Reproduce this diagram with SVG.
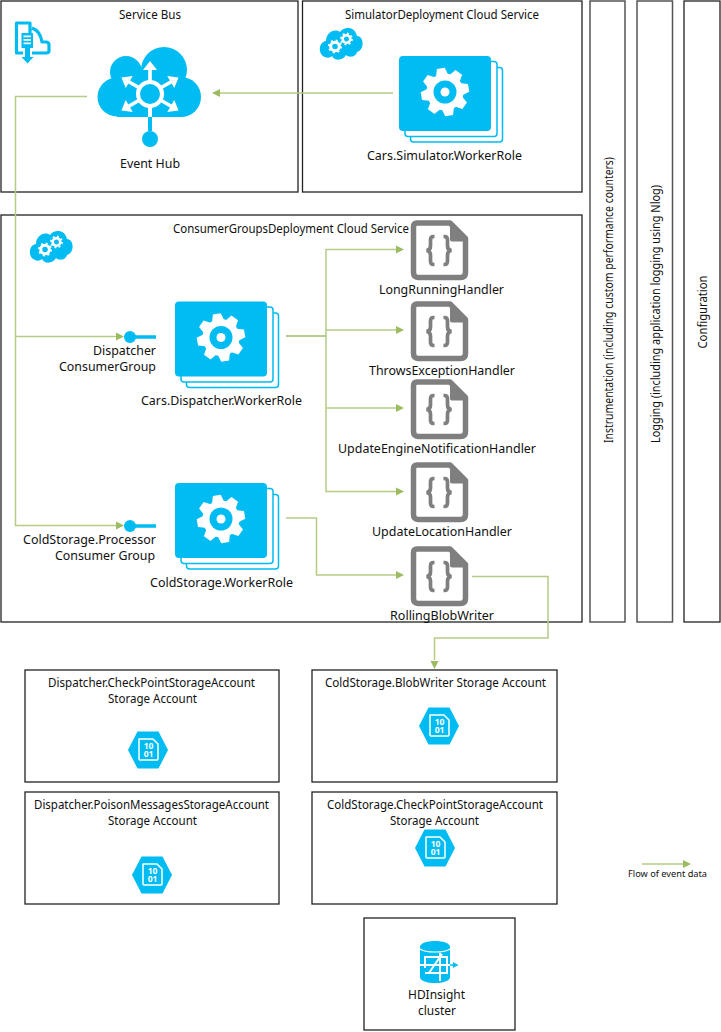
<svg xmlns="http://www.w3.org/2000/svg" xmlns:xlink="http://www.w3.org/1999/xlink" width="721" height="1032" viewBox="0 0 721 1032">
<style>
text{font-family:"Noto Sans","Open Sans","Liberation Sans",sans-serif;font-size:12px;fill:#111;text-anchor:middle}
.end{text-anchor:end}
.box{fill:#fff;stroke:#222;stroke-width:1.300}
.lbox{fill:#fff;stroke:#555;stroke-width:1.500}
.con{fill:none;stroke:#b4cc85;stroke-width:1.500}
.arr{fill:#9dbb61}
.blue{fill:#00bcf2}
.w{fill:#fff}
</style>
<defs>
<g id="gear">
<g transform="rotate(-10)">
<g class="w"><circle r="18.500"/>
<path id="t" d="M-6,-17-4,-24H4L6,-17V17L4,24H-4L-6,17Z"/>
<use xlink:href="#t" transform="rotate(45)"/>
<use xlink:href="#t" transform="rotate(90)"/>
<use xlink:href="#t" transform="rotate(135)"/></g>
</g>
<circle r="11.500" class="blue"/><circle r="4.500" class="w"/>
</g>
<g id="role">
<rect x="11.500" y="11.500" width="92" height="74.500" rx="3" fill="#fff" stroke="#00bcf2" stroke-width="1.500"/>
<rect x="6" y="5.500" width="92" height="75" rx="3" fill="#fff" stroke="#00bcf2" stroke-width="1.500"/>
<rect width="92" height="75" rx="4" class="blue"/>
<use xlink:href="#gear" transform="translate(46 36)"/>
</g>
<g id="doc">
<path d="M7,3H40L55.500,18.500V52.500Q55.500,57.500 50.500,57.500H8Q3.500,57.500 3.500,52.500V7Q3.500,3 7,3Z" fill="#fff" stroke="#7f7f7f" stroke-width="5.500" stroke-linejoin="round"/>
<path d="M40,2 57,19V21.500H42Q40,21.500 40,19.500Z" fill="#7f7f7f"/>
<path d="M24.500,16.500H23.500Q20.500,16.500 20.500,20V26Q20.500,30 16.500,30.500Q20.500,31 20.500,35V41Q20.500,44.500 23.500,44.500H24.500M33.500,16.500H34.500Q37.500,16.500 37.500,20V26Q37.500,30 41.500,30.500Q37.500,31 37.500,35V41Q37.500,44.500 34.500,44.500H33.500" fill="none" stroke="#7f7f7f" stroke-width="3.700"/>
</g>
<g id="hex">
<path d="M-20,0-10.500,-18.500H10.500L20,0 10.500,18.500H-10.500Z" class="blue"/>
<path d="M-9,-11H5L10,-6V9Q10,10 9,10H-8Q-9,10 -9,9Z" fill="none" stroke="#fff" stroke-width="1.500" stroke-linejoin="round"/>
<text x="0.500" y="-1.500" style="font-size:8.500px;font-weight:700;fill:#fff">10</text>
<text x="0.500" y="7" style="font-size:8.500px;font-weight:700;fill:#fff">01</text>
</g>
<g id="scloud">
<path class="blue" d="M6,32C-1,30 -1,17 7,16C7,8 15,3 21,7C25,1 36,1 38,11C45,11 46,25 38,27C37,32 30,33 27,30C24,36 15,36 13,31C11,33 8,33 6,32Z"/>
<g transform="translate(16 21.500)"><circle r="4.300" fill="none" stroke="#fff" stroke-width="3"/><circle r="6" fill="none" stroke="#fff" stroke-width="2" stroke-dasharray="2 2.700"/></g>
<g transform="translate(27.500 14)"><circle r="3.800" fill="none" stroke="#fff" stroke-width="2.600"/><circle r="5.400" fill="none" stroke="#fff" stroke-width="2" stroke-dasharray="1.900 2.300"/></g>
</g>
<g id="cg">
<circle cx="6" cy="6" r="6" class="blue"/>
<path d="M6,6H32" stroke="#00bcf2" stroke-width="3.500"/>
</g>
<path id="ah" class="arr" d="M0,0-8,-4V4Z"/>
<path id="hubarrow" class="w" d="M-1.800,-13V-24H-7L0,-33 7,-24H1.800V-13Z"/>
</defs>

<g id="service-bus">
<rect class="box" x="1" y="1" width="297" height="191"/>
<text x="150" y="19" textLength="62" lengthAdjust="spacingAndGlyphs">Service Bus</text>
<path d="M30,33V23H16.500V53H23M32,28C38,30 41,36 42,42H46Q49,42 49,45V51Q49,53 46,53H32" fill="none" stroke="#00bcf2" stroke-width="3.200" stroke-linejoin="round"/>
<path class="blue" d="M21.500,33H33V48H30V57H33.500L27.500,63.500 21.500,57H25V48H21.500Z"/>
<path class="w" d="M23.500,35.500H31V37.300H23.500ZM23.500,39H31V40.800H23.500ZM23.500,42.500H31V44.300H23.500Z"/>
</g>
<g id="simulator-service">
<rect class="box" x="302.500" y="1" width="279.500" height="191"/>
<text x="442" y="19" textLength="194" lengthAdjust="spacingAndGlyphs">SimulatorDeployment Cloud Service</text>
<use xlink:href="#scloud" transform="translate(319 25)"/>
</g>
<g id="consumer-service">
<rect class="box" x="1" y="215" width="581" height="407"/>
<text x="291" y="233" textLength="236" lengthAdjust="spacingAndGlyphs">ConsumerGroupsDeployment Cloud Service</text>
<use xlink:href="#scloud" transform="translate(29 228)"/>
</g>
<g id="instrumentation"><rect class="lbox" x="590" y="1" width="35" height="621"/>
<text transform="translate(613 300) rotate(-90)" textLength="286" lengthAdjust="spacingAndGlyphs">Instrumentation (including custom performance counters)</text></g>
<g id="logging"><rect class="lbox" x="637" y="1" width="35.500" height="621"/>
<text transform="translate(660 314) rotate(-90)" textLength="258" lengthAdjust="spacingAndGlyphs">Logging (including application logging using Nlog)</text></g>
<g id="configuration"><rect class="box" x="684" y="1" width="36" height="621"/>
<text transform="translate(707 312) rotate(-90)" textLength="73" lengthAdjust="spacingAndGlyphs">Configuration</text></g>

<g id="event-hub">
<g class="blue"><circle cx="117" cy="97" r="19.500"/><circle cx="126" cy="72" r="16"/><circle cx="164" cy="70" r="23"/><circle cx="181" cy="97" r="20"/><rect x="117" y="70" width="64" height="47"/></g>
<circle cx="150" cy="94" r="12" fill="none" stroke="#fff" stroke-width="4"/>
<use xlink:href="#hubarrow" transform="translate(150 94)"/>
<use xlink:href="#hubarrow" transform="translate(150 94) rotate(60)"/>
<use xlink:href="#hubarrow" transform="translate(150 94) rotate(120)"/>
<use xlink:href="#hubarrow" transform="translate(150 94) rotate(240)"/>
<use xlink:href="#hubarrow" transform="translate(150 94) rotate(300)"/>
<path d="M150,106V117" stroke="#fff" stroke-width="4"/>
<path d="M150,117V131" stroke="#00bcf2" stroke-width="4"/>
<circle cx="150" cy="139" r="8" class="blue"/>
<text x="150" y="168" textLength="60" lengthAdjust="spacingAndGlyphs">Event Hub</text>
</g>
<g id="simulator-role"><use xlink:href="#role" transform="translate(399 56)"/><text x="444.500" y="160" textLength="155" lengthAdjust="spacingAndGlyphs">Cars.Simulator.WorkerRole</text></g>
<g id="dispatcher-role"><use xlink:href="#role" transform="translate(175 301.500)"/><text x="221.500" y="405" textLength="161" lengthAdjust="spacingAndGlyphs">Cars.Dispatcher.WorkerRole</text></g>
<g id="coldstorage-role"><use xlink:href="#role" transform="translate(175 483)"/><text x="221.500" y="587" textLength="143" lengthAdjust="spacingAndGlyphs">ColdStorage.WorkerRole</text></g>
<g id="dispatcher-cg"><use xlink:href="#cg" transform="translate(124 331)"/><text class="end" x="156" y="355" textLength="63" lengthAdjust="spacingAndGlyphs">Dispatcher</text><text class="end" x="156" y="371" textLength="97" lengthAdjust="spacingAndGlyphs">ConsumerGroup</text></g>
<g id="coldstorage-cg"><use xlink:href="#cg" transform="translate(124 520)"/><text class="end" x="156" y="544" textLength="133" lengthAdjust="spacingAndGlyphs">ColdStorage.Processor</text><text class="end" x="155" y="560" textLength="100" lengthAdjust="spacingAndGlyphs">Consumer Group</text></g>

<g id="long-running"><use xlink:href="#doc" transform="translate(410 220)"/><text x="441.500" y="294" textLength="125" lengthAdjust="spacingAndGlyphs">LongRunningHandler</text></g>
<g id="throws-exception"><use xlink:href="#doc" transform="translate(410 301)"/><text x="442" y="375" textLength="146" lengthAdjust="spacingAndGlyphs">ThrowsExceptionHandler</text></g>
<g id="update-engine"><use xlink:href="#doc" transform="translate(410 379)"/><text x="437" y="453" textLength="198" lengthAdjust="spacingAndGlyphs">UpdateEngineNotificationHandler</text></g>
<g id="update-location"><use xlink:href="#doc" transform="translate(410 462)"/><text x="442" y="536" textLength="140" lengthAdjust="spacingAndGlyphs">UpdateLocationHandler</text></g>
<g id="rolling-blob"><use xlink:href="#doc" transform="translate(410 546)"/><text x="442" y="620" textLength="104" lengthAdjust="spacingAndGlyphs">RollingBlobWriter</text></g>

<g id="checkpoint-account"><rect class="box" x="25" y="670" width="254" height="112"/>
<text x="151.500" y="687" textLength="207" lengthAdjust="spacingAndGlyphs">Dispatcher.CheckPointStorageAccount</text><text x="152.500" y="703" textLength="89" lengthAdjust="spacingAndGlyphs">Storage Account</text>
<use xlink:href="#hex" transform="translate(148 750)"/></g>
<g id="blobwriter-account"><rect class="box" x="312" y="670" width="245" height="112"/>
<text x="435.500" y="687" textLength="221" lengthAdjust="spacingAndGlyphs">ColdStorage.BlobWriter Storage Account</text>
<use xlink:href="#hex" transform="translate(439 726)"/></g>
<g id="poison-account"><rect class="box" x="25" y="792" width="254" height="112"/>
<text x="151.500" y="809" textLength="235" lengthAdjust="spacingAndGlyphs">Dispatcher.PoisonMessagesStorageAccount</text><text x="152.500" y="825" textLength="89" lengthAdjust="spacingAndGlyphs">Storage Account</text>
<use xlink:href="#hex" transform="translate(152 875)"/></g>
<g id="cold-checkpoint-account"><rect class="box" x="312" y="792" width="245" height="112"/>
<text x="435" y="809" textLength="216" lengthAdjust="spacingAndGlyphs">ColdStorage.CheckPointStorageAccount</text><text x="434.500" y="825" textLength="89" lengthAdjust="spacingAndGlyphs">Storage Account</text>
<use xlink:href="#hex" transform="translate(435 848)"/></g>
<g id="hdinsight"><rect class="box" x="364" y="918" width="151" height="112"/>
<path class="blue" d="M420,947C420,939 450,939 450,947V977C450,985 420,985 420,977Z"/>
<path d="M420,949C425,953 445,953 450,949" fill="none" stroke="#fff" stroke-width="1.200"/>
<path d="M425,968V957H447V974M425,973H447M429,973 442,954M440,953V981M420,965H454" fill="none" stroke="#fff" stroke-width="2"/>
<path d="M450,965H454" stroke="#00bcf2" stroke-width="1.500"/><path d="M458.500,965 453,962V968Z" class="blue"/>
<text x="436.500" y="999" textLength="57" lengthAdjust="spacingAndGlyphs">HDInsight</text><text x="437" y="1015" textLength="38" lengthAdjust="spacingAndGlyphs">cluster</text></g>

<g id="connectors">
<path class="con" d="M87,96.500H15.500V525.500H116"/>
<path class="con" d="M15.500,336.500H116"/>
<path class="con" d="M393,93H220"/>
<path class="con" d="M286,336H326" style="stroke:#9dbb61"/>
<path class="con" d="M396,249.500H326V491.500H396"/>
<path class="con" d="M326,330H396M326,408H396"/>
<path class="con" d="M286,518H316.500V575H396"/>
<path class="con" d="M472,576.500H548V638H434.500V660"/>
<path class="con" d="M642,864H684"/>
<use xlink:href="#ah" transform="translate(124 336.500)"/>
<use xlink:href="#ah" transform="translate(124 525.500)"/>
<use xlink:href="#ah" transform="translate(212 93) rotate(180)"/>
<use xlink:href="#ah" transform="translate(404 249.500)"/>
<use xlink:href="#ah" transform="translate(404 330)"/>
<use xlink:href="#ah" transform="translate(404 408)"/>
<use xlink:href="#ah" transform="translate(404 491.500)"/>
<use xlink:href="#ah" transform="translate(404 575)"/>
<use xlink:href="#ah" transform="translate(434.500 669) rotate(90)"/>
<use xlink:href="#ah" transform="translate(691 864)"/>
</g>
<g id="legend"><text x="667.500" y="877" style="font-size:9.500px" textLength="79" lengthAdjust="spacingAndGlyphs">Flow of event data</text></g>
</svg>
